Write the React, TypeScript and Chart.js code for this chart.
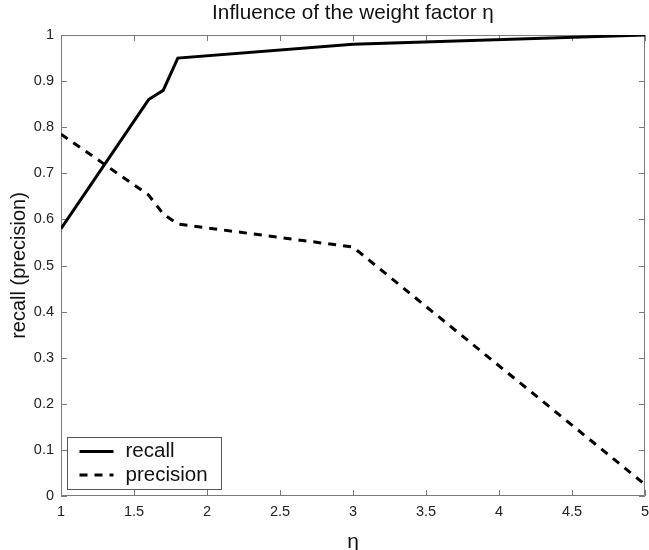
import React, { useEffect, useRef } from "react";
import { Chart, registerables } from "chart.js";

Chart.register(...registerables);

// ---- data ----
const etaValues = [1, 1.6, 1.7, 1.8, 3, 5];
const recallValues = [0.58, 0.86, 0.88, 0.95, 0.98, 1.0];
const precisionValues = [0.785, 0.653, 0.612, 0.59, 0.54, 0.025];
const seriesLabels = ["recall", "precision"];
const xRange = [1, 5];
const yRange = [0, 1];
const xTickStep = 0.5;
const yTickStep = 0.1;
const titleText = "Influence of the weight factor η";
const xAxisLabel = "η";
const yAxisLabel = "recall (precision)";

const FONT = "'Liberation Sans', Arial, Helvetica, sans-serif";
const AXIS_COLOR = "#7a7a7a";
const TEXT_COLOR = "#111";

const framePlugin = {
  id: "frame",
  beforeDatasetsDraw(chart: any) {
    const { ctx, chartArea: a, scales } = chart;
    const xs = scales.x;
    const ys = scales.y;
    const L = 6;
    ctx.save();
    ctx.strokeStyle = AXIS_COLOR;
    ctx.lineWidth = 1;
    ctx.beginPath();
    ctx.rect(a.left + 0.5, a.top + 0.5, a.right - a.left - 1, a.bottom - a.top - 1);
    xs.ticks.forEach((t: any) => {
      const px = Math.round(xs.getPixelForValue(t.value)) + 0.5;
      ctx.moveTo(px, a.bottom);
      ctx.lineTo(px, a.bottom - L);
      ctx.moveTo(px, a.top);
      ctx.lineTo(px, a.top + L);
    });
    ys.ticks.forEach((t: any) => {
      const py = Math.round(ys.getPixelForValue(t.value)) + 0.5;
      ctx.moveTo(a.left, py);
      ctx.lineTo(a.left + L, py);
      ctx.moveTo(a.right, py);
      ctx.lineTo(a.right - L, py);
    });
    ctx.stroke();
    ctx.restore();
  },
};

const legendBoxPlugin = {
  id: "legendBox",
  afterDatasetsDraw(chart: any) {
    const { ctx, chartArea: a } = chart;
    const w = 154;
    const h = 52;
    const x0 = Math.round(a.left + 6) + 0.5;
    const y0 = Math.round(a.bottom - 7 - h) + 0.5;
    ctx.save();
    ctx.fillStyle = "#fff";
    ctx.fillRect(x0, y0, w, h);
    ctx.strokeStyle = "#555";
    ctx.lineWidth = 1;
    ctx.strokeRect(x0, y0, w, h);
    chart.data.datasets.forEach((ds: any, i: number) => {
      const cy = y0 + 14 + i * 23.5;
      ctx.beginPath();
      ctx.setLineDash(ds.borderDash || []);
      ctx.lineWidth = ds.borderWidth;
      ctx.strokeStyle = ds.borderColor;
      ctx.moveTo(x0 + 12, cy);
      ctx.lineTo(x0 + 46, cy);
      ctx.stroke();
      ctx.setLineDash([]);
      ctx.fillStyle = TEXT_COLOR;
      ctx.font = `20.5px ${FONT}`;
      ctx.textBaseline = "middle";
      ctx.textAlign = "left";
      ctx.fillText(ds.label, x0 + 58, cy);
    });
    ctx.restore();
  },
};

export default function App() {
  const canvasRef = useRef<HTMLCanvasElement | null>(null);

  useEffect(() => {
    if (!canvasRef.current) return;
    const fmt = (v: any) => String(Math.round(Number(v) * 10) / 10);
    const chart = new Chart(canvasRef.current, {
      type: "line",
      data: {
        datasets: [
          {
            label: seriesLabels[0],
            data: etaValues.map((x, i) => ({ x, y: recallValues[i] })),
            borderColor: "#000",
            borderWidth: 3,
            pointRadius: 0,
            tension: 0,
            fill: false,
          },
          {
            label: seriesLabels[1],
            data: etaValues.map((x, i) => ({ x, y: precisionValues[i] })),
            borderColor: "#000",
            borderWidth: 3,
            borderDash: [8, 7],
            pointRadius: 0,
            tension: 0,
            fill: false,
          },
        ],
      },
      options: {
        responsive: false,
        animation: false,
        devicePixelRatio: 1,
        layout: { padding: { top: 0, right: 4, bottom: 0, left: 0 } },
        plugins: {
          legend: { display: false },
          tooltip: { enabled: false },
          title: {
            display: true,
            text: titleText,
            fullSize: false,
            color: TEXT_COLOR,
            font: { family: FONT, size: 20.7, weight: "normal" },
            padding: { top: 1, bottom: 9.2 },
          },
        },
        scales: {
          x: {
            type: "linear",
            min: xRange[0],
            max: xRange[1],
            grid: { display: false, drawTicks: false },
            border: { display: false },
            ticks: {
              stepSize: xTickStep,
              autoSkip: false,
              maxRotation: 0,
              padding: 7,
              color: "#222",
              font: { family: FONT, size: 14.5 },
              callback: fmt,
            },
            title: {
              display: true,
              text: xAxisLabel,
              color: TEXT_COLOR,
              font: { family: FONT, size: 21, lineHeight: 0.7 },
              padding: { top: 0, bottom: 0 },
            },
            afterFit: (s: any) => {
              s.height = 54;
              s.paddingLeft = 0;
              s.paddingRight = 0;
            },
          },
          y: {
            type: "linear",
            min: yRange[0],
            max: yRange[1],
            grid: { display: false, drawTicks: false },
            border: { display: false },
            ticks: {
              stepSize: yTickStep,
              autoSkip: false,
              padding: 7,
              color: "#222",
              font: { family: FONT, size: 14.5 },
              callback: fmt,
            },
            title: {
              display: true,
              text: yAxisLabel,
              color: TEXT_COLOR,
              font: { family: FONT, size: 20 },
              padding: { top: 7, bottom: 0 },
            },
            afterFit: (s: any) => {
              s.width = 61;
              s.paddingTop = 0;
              s.paddingBottom = 0;
            },
          },
        },
      },
      plugins: [framePlugin, legendBoxPlugin],
    } as any);
    return () => chart.destroy();
  }, []);

  return (
    <div style={{ position: "fixed", left: 0, top: 0, width: 649, height: 550, background: "#fff" }}>
      <canvas ref={canvasRef} width={649} height={550} style={{ display: "block" }} />
    </div>
  );
}
